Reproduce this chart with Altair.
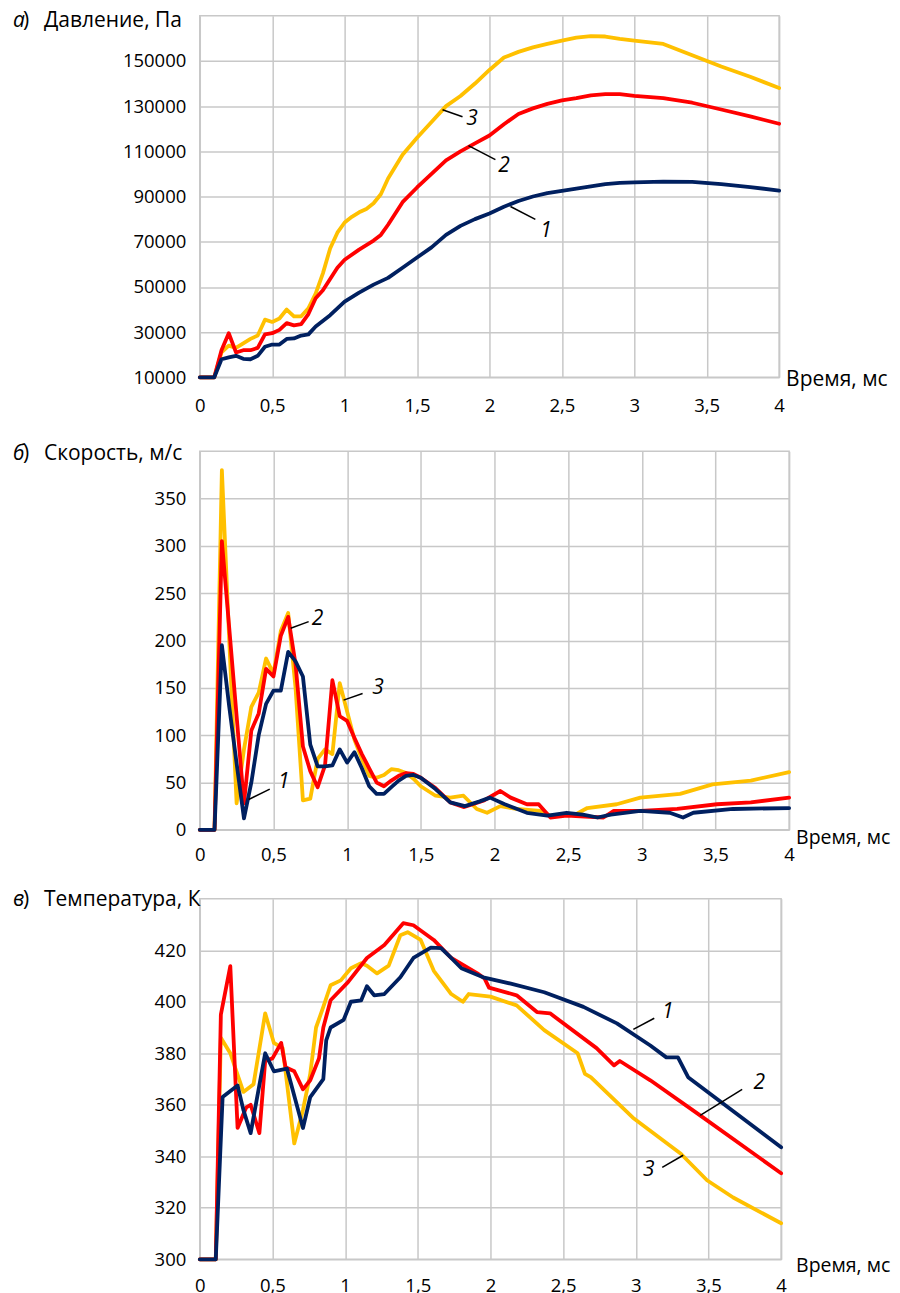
import altair as alt
import pandas as pd

FONT = "Open Sans"
C1, C2, C3 = "#002060", "#FF0000", "#FFC000"

# ---------------- Panel а: pressure, Pa ----------------
pa_t1 = [0, 0.1, 0.15, 0.2, 0.25, 0.3, 0.35, 0.4, 0.45, 0.5, 0.55, 0.6, 0.65, 0.7, 0.75, 0.8, 0.9, 1.0, 1.1, 1.2,
         1.3, 1.4, 1.5, 1.6, 1.7, 1.8, 1.9, 2.0, 2.1, 2.2, 2.3, 2.4, 2.5, 2.6, 2.7, 2.8, 2.9, 3.0, 3.2, 3.4, 3.6, 3.8, 4.0]
pa_v1 = [10000, 10000, 18000, 18800, 19500, 18200, 18000, 19500, 23500, 24500, 24500, 27000, 27200, 28500, 29000,
         32500, 37500, 43500, 47500, 51000, 54000, 58500, 63000, 67500, 73000, 77000, 80000, 82500, 85500, 88000,
         90000, 91500, 92500, 93500, 94500, 95500, 96000, 96300, 96600, 96500, 95500, 94200, 92600]
pa_t2 = [0, 0.1, 0.15, 0.2, 0.25, 0.3, 0.35, 0.4, 0.45, 0.5, 0.55, 0.6, 0.65, 0.7, 0.75, 0.8, 0.85, 0.9, 0.95, 1.0,
         1.1, 1.2, 1.25, 1.3, 1.35, 1.4, 1.5, 1.6, 1.7, 1.8, 1.9, 2.0, 2.1, 2.2, 2.3, 2.4, 2.5, 2.6, 2.7, 2.8, 2.9,
         3.0, 3.2, 3.4, 3.6, 3.8, 4.0]
pa_v2 = [10000, 10000, 22000, 29500, 21000, 22000, 22000, 23000, 29000, 29500, 31000, 34000, 33000, 33500, 38000,
         45000, 48500, 53500, 58500, 62000, 66500, 70500, 73000, 77500, 82500, 87500, 94000, 100000, 106000,
         110000, 113500, 117000, 122000, 126500, 129000, 131000, 132500, 133500, 134800, 135300, 135300, 134500,
         133500, 131500, 128500, 125500, 122200]
pa_t3 = [0, 0.1, 0.15, 0.2, 0.25, 0.3, 0.35, 0.4, 0.45, 0.5, 0.55, 0.6, 0.65, 0.7, 0.75, 0.8, 0.85, 0.9, 0.95, 1.0,
         1.05, 1.1, 1.15, 1.2, 1.25, 1.3, 1.4, 1.5, 1.6, 1.7, 1.8, 1.9, 2.0, 2.1, 2.2, 2.3, 2.4, 2.5, 2.6, 2.7, 2.8,
         2.9, 3.0, 3.2, 3.4, 3.6, 3.8, 4.0]
pa_v3 = [10000, 10000, 21000, 24000, 23000, 25000, 27000, 28500, 35500, 34500, 36000, 40000, 37000, 37000, 40500,
         47000, 56000, 67000, 74000, 78500, 81000, 83000, 84500, 87000, 91000, 98000, 108500, 116000, 123000,
         130000, 134500, 140000, 146000, 151500, 154000, 156000, 157500, 159000, 160300, 161000, 160800, 159800,
         159000, 157500, 152500, 147500, 143000, 138000]
pa_labels = ["1", "2", "3"]
pa_lead_x1 = [2.145, 1.855, 1.676]
pa_lead_y1 = [85600, 112500, 128400]
pa_lead_x2 = [2.317, 2.041, 1.814]
pa_lead_y2 = [79900, 106300, 125300]
pa_lab_x = [2.39, 2.10, 1.88]
pa_lab_y = [74600, 103700, 124400]

# ---------------- Panel б: velocity, m/s ----------------
pb_t1 = [0, 0.1, 0.15, 0.2, 0.25, 0.3, 0.35, 0.4, 0.45, 0.5, 0.55, 0.6, 0.65, 0.7, 0.75, 0.8, 0.85, 0.9, 0.95, 1.0,
         1.05, 1.1, 1.15, 1.2, 1.25, 1.3, 1.35, 1.4, 1.45, 1.5, 1.6, 1.7, 1.8, 1.9, 1.97, 2.07, 2.22, 2.36, 2.49,
         2.6, 2.7, 2.79, 2.99, 3.19, 3.28, 3.35, 3.62, 4.0]
pb_v1 = [0, 0, 195, 130, 70, 12, 50, 100, 133, 147, 147, 188, 178, 162, 90, 67, 67, 68, 85, 71, 82, 65, 46, 38, 38,
         45, 52, 57, 58, 55, 43, 29, 25, 30, 34, 27, 18, 15, 18, 16, 13, 16, 20, 18, 13, 18, 22, 23]
pb_t2 = [0, 0.1, 0.15, 0.2, 0.25, 0.3, 0.35, 0.4, 0.45, 0.5, 0.55, 0.6, 0.65, 0.7, 0.75, 0.8, 0.85, 0.9, 0.95, 1.0,
         1.05, 1.1, 1.15, 1.2, 1.25, 1.3, 1.35, 1.4, 1.45, 1.5, 1.6, 1.7, 1.79, 1.93, 2.04, 2.11, 2.22, 2.3, 2.38,
         2.49, 2.74, 2.81, 2.99, 3.24, 3.51, 3.74, 4.0]
pb_v2 = [0, 0, 305, 213, 120, 28, 105, 123, 170, 162, 205, 225, 175, 88, 62, 45, 68, 158, 120, 115, 97, 80, 65, 50,
         46, 52, 57, 60, 59, 55, 44, 29, 24, 31, 41, 34, 27, 27, 13, 15, 13, 20, 20, 22, 27, 29, 34]
pb_t3 = [0, 0.1, 0.15, 0.2, 0.25, 0.3, 0.35, 0.4, 0.45, 0.5, 0.55, 0.6, 0.65, 0.7, 0.75, 0.8, 0.85, 0.9, 0.95, 1.0,
         1.05, 1.1, 1.15, 1.2, 1.25, 1.3, 1.35, 1.4, 1.45, 1.5, 1.6, 1.7, 1.79, 1.88, 1.95, 2.04, 2.15, 2.31, 2.38,
         2.56, 2.63, 2.83, 2.99, 3.26, 3.48, 3.74, 4.0]
pb_v3 = [0, 0, 380, 200, 28, 85, 130, 145, 181, 165, 210, 229, 150, 31, 33, 75, 85, 80, 155, 125, 95, 75, 57, 55,
         58, 64, 63, 60, 54, 46, 36, 34, 36, 22, 18, 25, 22, 20, 15, 17, 23, 27, 34, 38, 48, 52, 61]
pb_labels = ["1", "2", "3"]
pb_lead_x1 = [0.332, 0.617, 0.976]
pb_lead_y1 = [32, 213, 137]
pb_lead_x2 = [0.475, 0.739, 1.105]
pb_lead_y2 = [43, 220, 144]
pb_lab_x = [0.57, 0.80, 1.21]
pb_lab_y = [50, 223, 150]

# ---------------- Panel в: temperature, K ----------------
pc_t1 = [0, 0.11, 0.157, 0.26, 0.3, 0.35, 0.45, 0.51, 0.6, 0.71, 0.76, 0.85, 0.87, 0.9, 0.99, 1.04, 1.11, 1.15,
         1.2, 1.27, 1.38, 1.47, 1.59, 1.66, 1.73, 1.8, 1.95, 2.14, 2.37, 2.64, 2.87, 3.1, 3.21, 3.29, 3.36, 4.0]
pc_v1 = [300, 300, 363, 367.5, 358, 349, 380, 373, 374, 351, 363, 370, 385, 390, 393, 400, 400.5, 406, 402.5, 403,
         409.5, 417, 421, 420.8, 417, 413, 409.5, 407, 403.7, 398, 391.6, 383, 378.4, 378.4, 370.7, 343.5]
pc_t2 = [0, 0.11, 0.145, 0.21, 0.26, 0.32, 0.35, 0.41, 0.45, 0.5, 0.56, 0.59, 0.65, 0.71, 0.76, 0.82, 0.85, 0.9,
         1.02, 1.15, 1.27, 1.4, 1.47, 1.61, 1.73, 1.91, 1.96, 1.99, 2.18, 2.32, 2.41, 2.73, 2.85, 2.89, 3.1, 3.44, 4.0]
pc_v2 = [300, 300, 395, 413.8, 351, 359, 360, 349, 377, 378, 384, 374.6, 373, 366, 369.5, 378, 390, 400.6, 407.6,
         417, 422, 430.5, 429.7, 424, 417, 411, 409, 405.5, 402.5, 396, 395.5, 382, 375.3, 377, 369.5, 356, 333.4]
pc_t3 = [0, 0.11, 0.145, 0.21, 0.3, 0.37, 0.45, 0.51, 0.57, 0.59, 0.65, 0.71, 0.76, 0.8, 0.85, 0.9, 0.97, 1.04,
         1.11, 1.15, 1.22, 1.3, 1.38, 1.43, 1.52, 1.61, 1.73, 1.81, 1.85, 2.0, 2.18, 2.37, 2.6, 2.65, 2.69, 2.98,
         3.31, 3.49, 3.67, 4.0]
pc_v3 = [300, 300, 386, 380, 365, 368, 395.5, 384, 382, 373, 345, 358, 372, 390, 398, 406.4, 408.3, 413, 415, 414,
         411, 414, 425.8, 427, 424, 412, 403, 400, 403, 402, 398.6, 389, 380, 372, 370.7, 355, 341, 330.7, 324, 314]
pc_labels = ["1", "2", "3"]
pc_lead_x1 = [2.983, 3.443, 3.182]
pc_lead_y1 = [389.3, 355.9, 335.7]
pc_lead_x2 = [3.127, 3.732, 3.326]
pc_lead_y2 = [393.6, 366.0, 340.4]
pc_lab_x = [3.22, 3.85, 3.09]
pc_lab_y = [396.0, 368.3, 334.6]

x_ticks = [0, 0.5, 1, 1.5, 2, 2.5, 3, 3.5, 4]
GRID = "#c8c8c8"
TICK_FS = 18.5
TITLE_FS = 21
NUM_FS = 21


def panel(series, ydom, yvals, width, height, letter, title, ann, top_ext, bot_ext, xpad, title_dy,
          xt_dx, xt_dy, xt_fs):
    xscale = alt.Scale(domain=[0, 4], nice=False, zero=False)
    yscale = alt.Scale(domain=ydom, nice=False, zero=False)
    xaxis = alt.Axis(values=x_ticks, labelExpr="replace(toString(datum.value), '.', ',')", grid=True,
                     ticks=False, domain=False, labelPadding=xpad, labelFontSize=TICK_FS, labelFont=FONT,
                     labelColor="black", gridColor=GRID, gridWidth=1.5, labelFlush=False, labelOverlap=False,
                     title=None)
    yaxis = alt.Axis(values=yvals, format="d", grid=True, ticks=False, domain=False, labelPadding=14,
                     labelFontSize=TICK_FS, labelFont=FONT, labelColor="black", gridColor=GRID, gridWidth=1.5,
                     labelFlush=False, labelOverlap=False, title=None)
    layers = []
    for t, v, col in series:
        df = pd.DataFrame({"t": t, "v": v})
        layers.append(
            alt.Chart(df).mark_line(color=col, strokeWidth=3.8, strokeJoin="round", strokeCap="round").encode(
                x=alt.X("t:Q", scale=xscale, axis=xaxis),
                y=alt.Y("v:Q", scale=yscale, axis=yaxis),
            )
        )
    labels, lx1, ly1, lx2, ly2, tx, ty = ann
    adf = pd.DataFrame({"lab": labels, "x1": lx1, "y1": ly1, "x2": lx2, "y2": ly2, "tx": tx, "ty": ty})
    layers.append(alt.Chart(adf).mark_rule(color="black", strokeWidth=1.5).encode(
        x=alt.X("x1:Q", scale=xscale), y=alt.Y("y1:Q", scale=yscale), x2="x2:Q", y2="y2:Q"))
    layers.append(alt.Chart(adf).mark_text(font=FONT, fontSize=NUM_FS, fontStyle="italic", color="black").encode(
        x=alt.X("tx:Q", scale=xscale), y=alt.Y("ty:Q", scale=yscale), text="lab:N"))
    one = pd.DataFrame({"k": [0]})
    layers.append(alt.Chart(one).mark_text(font=FONT, fontSize=TITLE_FS, fontStyle="italic", align="left",
                                           baseline="middle", color="black").encode(
        x=alt.value(-187), y=alt.value(title_dy), text=alt.value(letter)))
    layers.append(alt.Chart(one).mark_text(font=FONT, fontSize=TITLE_FS, align="left", baseline="middle",
                                           color="black").encode(
        x=alt.value(-177), y=alt.value(title_dy), text=alt.value(")")))
    layers.append(alt.Chart(one).mark_text(font=FONT, fontSize=TITLE_FS, align="left", baseline="middle",
                                           color="black").encode(
        x=alt.value(-156), y=alt.value(title_dy), text=alt.value(title)))
    layers.append(alt.Chart(one).mark_text(font=FONT, fontSize=xt_fs, align="left", baseline="middle",
                                           color="black").encode(
        x=alt.value(width + xt_dx), y=alt.value(height + xt_dy), text=alt.value("Время, мс")))
    layers.append(alt.Chart(one).mark_rule(strokeOpacity=0, strokeWidth=1).encode(
        x=alt.value(0), y=alt.value(-top_ext), y2=alt.value(height + bot_ext)))
    return alt.layer(*layers).properties(width=width, height=height)


pa = panel([(pa_t3, pa_v3, C3), (pa_t2, pa_v2, C2), (pa_t1, pa_v1, C1)],
           [10000, 170000], list(range(10000, 150001, 20000)), 580, 362, "а", "Давление, Па",
           (pa_labels, pa_lead_x1, pa_lead_y1, pa_lead_x2, pa_lead_y2, pa_lab_x, pa_lab_y),
           6, 42, 19, 5, 7, 2.5, 21)
pb = panel([(pb_t3, pb_v3, C3), (pb_t2, pb_v2, C2), (pb_t1, pb_v1, C1)],
           [0, 400], list(range(0, 351, 50)), 590, 379, "б", "Скорость, м/с",
           (pb_labels, pb_lead_x1, pb_lead_y1, pb_lead_x2, pb_lead_y2, pb_lab_x, pb_lab_y),
           30, 42, 16, 3, 7, 8, 19.5)
pc = panel([(pc_t3, pc_v3, C3), (pc_t2, pc_v2, C2), (pc_t1, pc_v1, C1)],
           [300, 440], list(range(300, 421, 20)), 582, 361, "в", "Температура, К",
           (pc_labels, pc_lead_x1, pc_lead_y1, pc_lead_x2, pc_lead_y2, pc_lab_x, pc_lab_y),
           25, 30, 17, 1, 15, 6.5, 19.5)

chart = alt.vconcat(pa, pb, pc, spacing=0).properties(
    padding={"left": 4, "top": 0, "right": 0, "bottom": 0}, background="white"
).configure_view(stroke=GRID, strokeWidth=1.5)

chart.save("out.html", embed_options={"renderer": "svg", "actions": False})
